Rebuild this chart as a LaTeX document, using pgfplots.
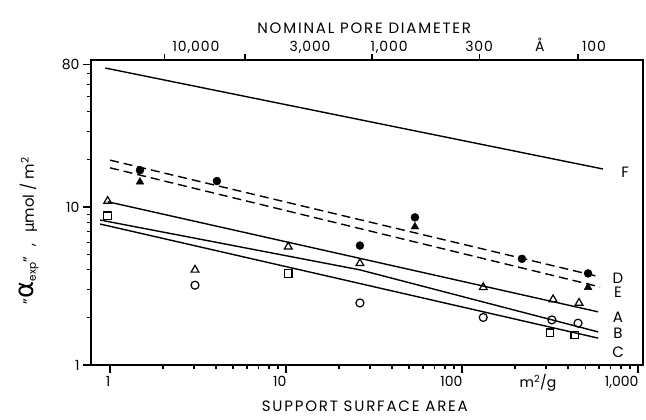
\documentclass[border=0pt]{standalone}
\usepackage{fontspec}
\setmainfont{Poppins}
\newfontfamily\gr{DejaVu Sans}
\usepackage{pgfplots}
\pgfplotsset{compat=1.18}

\begin{document}
\begin{tikzpicture}
\path[use as bounding box] (-91pt,-55pt) rectangle (555pt,365pt);
\begin{loglogaxis}[
    scale only axis, width=552pt, height=305pt,
    xmin=0.78, xmax=1067, ymin=1, ymax=85.2,
    axis line style={line width=1.3pt},
    tick style={line width=1.1pt, black},
    tick align=outside,
    major tick length=8pt, minor tick length=4pt,
    xtick pos=bottom, ytick pos=left,
    xtick={1,10,100,1000},
    xticklabels={\textnormal{1},\textnormal{10},\textnormal{100},\textnormal{1,000}},
    minor xtick={2,3,4,5,6,7,8,9,20,30,40,50,60,70,80,90,200,300,400,500,600,700,800,900},
    ytick={1,10,80},
    yticklabels={\textnormal{1},\textnormal{10},\textnormal{80}},
    minor ytick={2,3,4,5,6,7,8,9,20,30,40,50,60,70},
    xticklabel style={font=\fontsize{14}{16}\selectfont, anchor=north east, xshift=4pt},
    yticklabel style={font=\fontsize{14}{16}\selectfont},
    clip=false,
]
% fitted lines
\addplot[black, line width=1.4pt] coordinates {(0.94,75.8) (632,17.4)};
\addplot[black, line width=1.4pt, dash pattern=on 9pt off 5pt] coordinates {(1,19.8) (608,3.61)};
\addplot[black, line width=1.4pt, dash pattern=on 9pt off 5pt] coordinates {(1,17.7) (608,3.12)};
\addplot[black, line width=1.4pt] coordinates {(0.97,10.8) (593,2.17)};
\addplot[black, line width=1.4pt] coordinates {(0.88,8.27) (26.3,4.0) (593,1.62)};
\addplot[black, line width=1.4pt] coordinates {(0.88,7.8) (593,1.48)};
% measured points
\addplot[only marks, mark=*, mark size=4pt, black] coordinates {
  (1.48,17.1) (4.05,14.6) (26.3,5.7) (54,8.6) (219,4.7) (520,3.8)};
\addplot[only marks, mark=triangle*, mark size=4.5pt, black] coordinates {
  (1.48,14.4) (54,7.5) (520,3.1)};
\addplot[only marks, mark=triangle, mark size=4.5pt, black, line width=1.2pt, mark options={fill=white}] coordinates {
  (0.97,10.9) (3.04,4.0) (10.3,5.6) (26.3,4.4) (132,3.1) (329,2.6) (462,2.47)};
\addplot[only marks, mark=o, mark size=4pt, black, line width=1.2pt, mark options={fill=white}] coordinates {
  (3.04,3.2) (26.3,2.47) (132,2.0) (324,1.93) (456,1.84)};
\addplot[only marks, mark=square, mark size=3.8pt, black, line width=1.2pt, mark options={fill=white}] coordinates {
  (0.97,8.8) (10.3,3.8) (316,1.6) (437,1.55)};
% curve letters
\node[font=\fontsize{15}{17}\selectfont, inner sep=0pt] at (axis cs:844,16.7) {F};
\node[font=\fontsize{15}{17}\selectfont, inner sep=0pt] at (axis cs:770,3.55) {D};
\node[font=\fontsize{15}{17}\selectfont, inner sep=0pt] at (axis cs:770,2.90) {E};
\node[font=\fontsize{15}{17}\selectfont, inner sep=0pt] at (axis cs:770,2.01) {A};
\node[font=\fontsize{15}{17}\selectfont, inner sep=0pt] at (axis cs:770,1.59) {B};
\node[font=\fontsize{15}{17}\selectfont, inner sep=0pt] at (axis cs:770,1.21) {C};
\node[anchor=base, font=\fontsize{14}{16}\selectfont, yshift=-23pt] at (axis cs:270,1) {m\textsuperscript{2}/g};
\node[anchor=base, font=\fontsize{15}{17}\selectfont\addfontfeature{LetterSpace=12}, yshift=-47pt] at (rel axis cs:0.496,0) {SUPPORT SURFACE AREA};
\node[anchor=base, font=\fontsize{15}{17}\selectfont\addfontfeature{LetterSpace=12}, yshift=26pt] at (rel axis cs:0.495,1) {NOMINAL PORE DIAMETER};
\node[xshift=-62pt, rotate=90, anchor=center, font=\fontsize{15}{17}\selectfont] at (rel axis cs:0,0.44)
  {"{\gr\fontsize{26}{28}\selectfont α}\textsubscript{exp}"\hspace{0.7em},\hspace{0.7em}{\gr μ}mol / m\textsuperscript{2}};
\end{loglogaxis}
% top scale: nominal pore diameter
\begin{loglogaxis}[
    scale only axis, width=552pt, height=305pt,
    xmin=0.78, xmax=1067, ymin=1, ymax=85.2,
    axis line style={line width=1.3pt},
    tick style={line width=1.1pt, black},
    tick align=outside,
    major tick length=6pt,
    axis x line*=top, hide y axis,
    xtick={2.05,5.85,30.8,125,456}, xticklabels={},
    minor xtick={},
    clip=false,
]
\node[anchor=base, font=\fontsize{14}{16}\selectfont\addfontfeature{LetterSpace=6}, yshift=8pt] at (axis cs:3.08,85.2) {10,000};
\node[anchor=base, font=\fontsize{14}{16}\selectfont\addfontfeature{LetterSpace=6}, yshift=8pt] at (axis cs:13.7,85.2) {3,000};
\node[anchor=base, font=\fontsize{14}{16}\selectfont\addfontfeature{LetterSpace=6}, yshift=8pt] at (axis cs:38.5,85.2) {1,000};
\node[anchor=base, font=\fontsize{14}{16}\selectfont\addfontfeature{LetterSpace=6}, yshift=8pt] at (axis cs:125,85.2) {300};
\node[anchor=base, font=\fontsize{14}{16}\selectfont\addfontfeature{LetterSpace=6}, yshift=8pt] at (axis cs:277,85.2) {Å};
\node[anchor=base, font=\fontsize{14}{16}\selectfont\addfontfeature{LetterSpace=6}, yshift=8pt] at (axis cs:562,85.2) {100};
\end{loglogaxis}
\end{tikzpicture}
\end{document}
